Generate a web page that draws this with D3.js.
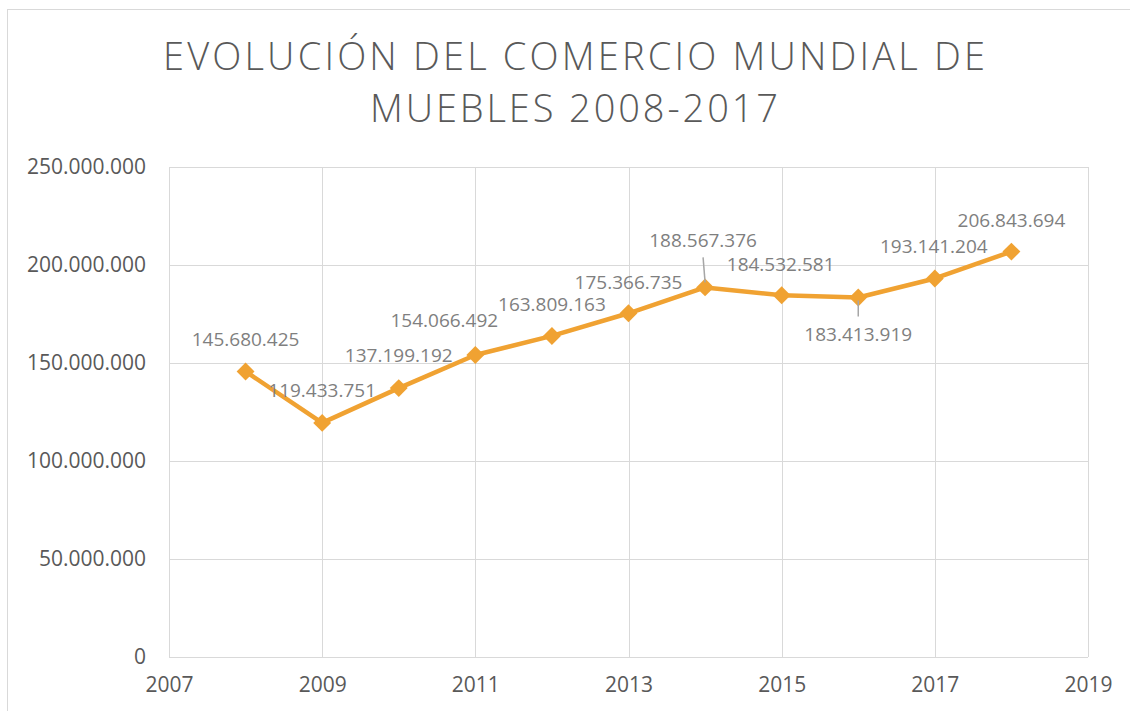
<!DOCTYPE html>
<html>
<head>
<meta charset="utf-8">
<script src="https://cdn.jsdelivr.net/npm/d3@7"></script>
<style>
  body { margin: 0; background: #fff; }
  svg { display: block; font-family: "Open Sans", sans-serif; }
</style>
</head>
<body>
<svg></svg>
<script>
var titleLines = ["EVOLUCIÓN DEL COMERCIO MUNDIAL DE", "MUEBLES 2008-2017"];
var years = [2008, 2009, 2010, 2011, 2012, 2013, 2014, 2015, 2016, 2017, 2018];
var values = [145680425, 119433751, 137199192, 154066492, 163809163, 175366735,
              188567376, 184532581, 183413919, 193141204, 206843694];
var xTicks = [2007, 2009, 2011, 2013, 2015, 2017, 2019];
var yTicks = [0, 50000000, 100000000, 150000000, 200000000, 250000000];

// label placement, same order as years: [dx, dy of baseline, leader line?]
var labelNudge = [[0, -25, 0], [0, -26, 0], [0, -26, 0], [-31, -28, 0], [0, -25, 0], [0, -24, 0],
                  [-2, -40, 1], [-1, -24, 0], [0, 43, 1], [-1, -25, 0], [0, -25, 0]];

var screen = { width: 1130, height: 711 };

var svg = d3.select("svg")
            .attr("width", screen.width)
            .attr("height", screen.height);

var plot = { left: 169, right: 1088, top: 167, bottom: 657 };

var locale = d3.formatLocale({ decimal: ",", thousands: ".", grouping: [3], currency: ["", ""] });
var fmt = locale.format(",d");

var xScale = d3.scaleLinear()
               .domain([2007, 2019])
               .range([plot.left, plot.right]);

var yScale = d3.scaleLinear()
               .domain([0, 250000000])
               .range([plot.bottom, plot.top]);

// chart border
svg.append("rect")
   .attr("x", 7.5).attr("y", 9.5)
   .attr("width", 1140).attr("height", 720)
   .attr("fill", "none")
   .attr("stroke", "#d9d9d9")
   .attr("stroke-width", 1);

// title
var title = svg.append("g").classed("title", true);
title.selectAll("text")
     .data(titleLines)
     .enter()
     .append("text")
     .attr("x", 574)
     .attr("y", function(d, i) { return 70 + i * 52; })
     .attr("text-anchor", "middle")
     .attr("font-size", 38)
     .attr("font-weight", 300)
     .attr("fill", "#595959")
     .text(function(d) { return d; });

var titleWidths = [822, 408];
title.selectAll("text").each(function(d, i) {
  var t = d3.select(this);
  var natural = this.getComputedTextLength();
  var ls = (titleWidths[i] - natural) / (d.length - 1);
  t.attr("letter-spacing", ls).attr("x", 574 + ls / 2);
});

// gridlines
var grid = svg.append("g").classed("grid", true);
grid.selectAll("line.h")
    .data(yTicks)
    .enter()
    .append("line")
    .attr("x1", plot.left).attr("x2", plot.right)
    .attr("y1", function(d) { return Math.round(yScale(d)) + 0.5; })
    .attr("y2", function(d) { return Math.round(yScale(d)) + 0.5; })
    .attr("stroke", "#d9d9d9");

grid.selectAll("line.v")
    .data(xTicks)
    .enter()
    .append("line")
    .attr("y1", plot.top).attr("y2", plot.bottom)
    .attr("x1", function(d) { return Math.round(xScale(d)) + 0.5; })
    .attr("x2", function(d) { return Math.round(xScale(d)) + 0.5; })
    .attr("stroke", "#d9d9d9");

// axes
var yAxis = d3.axisLeft(yScale)
              .tickValues(yTicks)
              .tickFormat(fmt)
              .tickSize(0)
              .tickPadding(23);

svg.append("g")
   .classed("yAxis", true)
   .attr("transform", "translate(" + plot.left + ",0)")
   .call(yAxis)
   .call(function(g) { g.select(".domain").remove(); })
   .selectAll("text")
   .attr("font-family", "Open Sans")
   .attr("font-size", 21)
   .attr("fill", "#595959");

var xAxis = d3.axisBottom(xScale)
              .tickValues(xTicks)
              .tickFormat(d3.format("d"))
              .tickSize(0)
              .tickPadding(20);

svg.append("g")
   .classed("xAxis", true)
   .attr("transform", "translate(0," + plot.bottom + ")")
   .call(xAxis)
   .call(function(g) { g.select(".domain").remove(); })
   .selectAll("text")
   .attr("font-family", "Open Sans")
   .attr("font-size", 21)
   .attr("fill", "#595959");

// series
var series = years.map(function(y, i) { return { year: y, value: values[i], nudge: labelNudge[i] }; });
var orange = "#F0A232";

var line = d3.line()
             .x(function(d) { return xScale(d.year); })
             .y(function(d) { return yScale(d.value); });

svg.append("path")
   .datum(series)
   .attr("d", line)
   .attr("fill", "none")
   .attr("stroke", orange)
   .attr("stroke-width", 4.5)
   .attr("stroke-linejoin", "round");

svg.append("g")
   .selectAll("path")
   .data(series)
   .enter()
   .append("path")
   .attr("d", d3.symbol().type(d3.symbolSquare).size(160))
   .attr("transform", function(d) {
     return "translate(" + xScale(d.year) + "," + yScale(d.value) + ") rotate(45)";
   })
   .attr("fill", orange);

// leader lines
svg.append("g")
   .selectAll("line")
   .data(series.filter(function(d) { return d.nudge[2]; }))
   .enter()
   .append("line")
   .attr("x1", function(d) { return xScale(d.year) + d.nudge[0]; })
   .attr("x2", function(d) { return xScale(d.year); })
   .attr("y1", function(d) {
     return yScale(d.value) + (d.nudge[1] < 0 ? d.nudge[1] + 10 : 3);
   })
   .attr("y2", function(d) {
     return yScale(d.value) + (d.nudge[1] < 0 ? -5 : d.nudge[1] - 24);
   })
   .attr("stroke", "#a6a6a6")
   .attr("stroke-width", 1.5);

// data labels
svg.append("g")
   .selectAll("text")
   .data(series)
   .enter()
   .append("text")
   .attr("x", function(d) { return xScale(d.year) + d.nudge[0]; })
   .attr("y", function(d) { return yScale(d.value) + d.nudge[1]; })
   .attr("text-anchor", "middle")
   .attr("font-size", 19)
   .attr("fill", "#7f7f7f")
   .text(function(d) { return fmt(d.value); });
</script>
</body>
</html>
